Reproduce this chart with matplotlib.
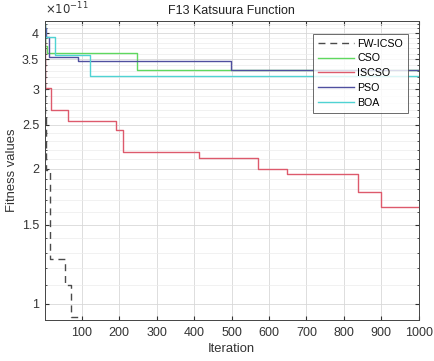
import numpy as np
import matplotlib
matplotlib.use("Agg")
import matplotlib.pyplot as plt
from matplotlib.ticker import FixedLocator, NullFormatter

# Convergence curves (best fitness, in units of 1e-11) as step breakpoints:
# iteration where the best value changes, and the new value.
fw_icso_iter = [1, 2, 4, 16, 55, 70, 90]
fw_icso_val = [4.2, 2.6, 1.98, 1.26, 1.10, 0.935, 0.85]

cso_iter = [1, 3, 6, 248]
cso_val = [3.9, 3.75, 3.61, 3.31]

iscso_iter = [1, 2, 18, 64, 192, 209, 412, 570, 647, 837, 900]
iscso_val = [3.8, 3.02, 2.70, 2.55, 2.43, 2.18, 2.11, 2.00, 1.94, 1.77, 1.64]

pso_iter = [1, 4, 13, 89, 499]
pso_val = [4.1, 3.93, 3.54, 3.47, 3.31]

boa_iter = [1, 2, 28, 121]
boa_val = [4.2, 3.93, 3.57, 3.22]

N_ITER = 1000
SCALE = 1e-11

series = [
    ("FW-ICSO", fw_icso_iter, fw_icso_val, "#4a4a4a", (0, (5, 3.5))),
    ("CSO", cso_iter, cso_val, "#5fd85f", "-"),
    ("ISCSO", iscso_iter, iscso_val, "#dd5a6c", "-"),
    ("PSO", pso_iter, pso_val, "#4f4f9f", "-"),
    ("BOA", boa_iter, boa_val, "#4fd3d3", "-"),
]

y_ticks = [1, 1.5, 2, 2.5, 3, 3.5, 4]
x_ticks = list(range(100, 1001, 100))

plt.rcParams["font.family"] = ["Liberation Sans", "DejaVu Sans"]

fig = plt.figure(figsize=(4.34, 3.61), dpi=100)
ax = fig.add_axes([0.103, 0.114, 0.862, 0.828])

for name, it, val, color, ls in series:
    xs = list(it) + [N_ITER]
    ys = [v * SCALE for v in val] + [val[-1] * SCALE]
    ax.step(xs, ys, where="post", color=color, linestyle=ls,
            linewidth=1.0, label=name)

ax.set_yscale("log")
ax.set_xlim(1, N_ITER)
ax.set_ylim(0.921 * SCALE, 4.26 * SCALE)

ax.yaxis.set_major_locator(FixedLocator([t * SCALE for t in y_ticks]))
ax.set_yticklabels([f"{t:g}" for t in y_ticks])
minor = [m / 10 * SCALE for m in range(9, 43) if (m / 10) not in y_ticks]
ax.yaxis.set_minor_locator(FixedLocator(minor))
ax.yaxis.set_minor_formatter(NullFormatter())
ax.set_xticks(x_ticks)

ax.grid(True, which="major", color="#d8d8d8", linewidth=0.6)
ax.grid(True, which="minor", axis="y", color="#ececec", linewidth=0.5)
ax.set_axisbelow(True)

ax.tick_params(which="both", direction="in", top=True, right=True,
               labelsize=9, colors="#333333", length=3, pad=5)
ax.tick_params(axis="y", pad=4)
ax.tick_params(which="minor", length=1.5)
for sp in ax.spines.values():
    sp.set_color("#444444")
    sp.set_linewidth(0.7)

ax.text(0.0, 1.012, r"$\times10^{-11}$", transform=ax.transAxes,
        fontsize=8.5, color="#333333", ha="left", va="bottom")
ax.set_title("F13 Katsuura Function", fontsize=9, color="#222222", pad=5)
ax.set_xlabel("Iteration", fontsize=9.4, color="#333333", labelpad=3)
ax.set_ylabel("Fitness values", fontsize=9.4, color="#333333", labelpad=3)

leg = ax.legend(loc="upper right", fontsize=7.7, frameon=True, fancybox=False,
                edgecolor="#444444", handlelength=3.4, handletextpad=0.3,
                borderpad=0.45, labelspacing=0.45, bbox_to_anchor=(0.985, 0.975))
leg.get_frame().set_linewidth(0.7)

fig.savefig("out.png", dpi=100)
